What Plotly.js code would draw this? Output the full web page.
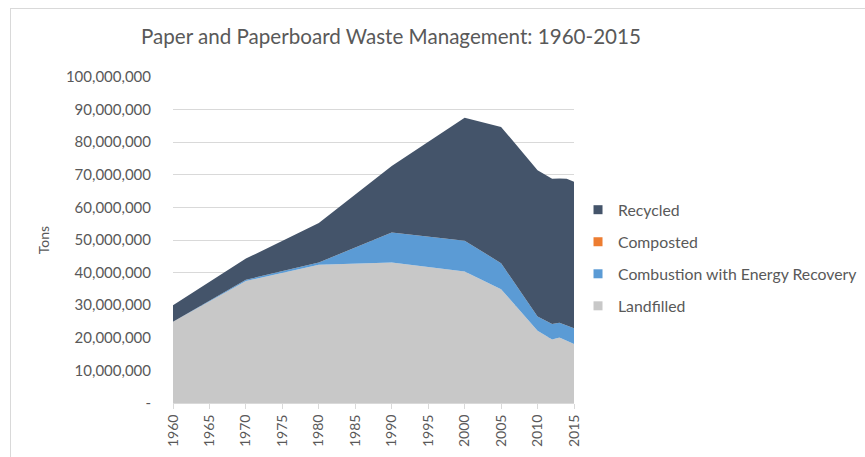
<!DOCTYPE html>
<html>
<head>
<meta charset="utf-8">
<script src="https://cdn.plot.ly/plotly-3.0.1.min.js"></script>
<style>
  html, body { margin: 0; padding: 0; background: #fff; }
  #wrap { position: relative; width: 865px; height: 457px; }
  #chart { width: 865px; height: 457px; }
  #frame { position: absolute; left: 10px; top: 8px; right: 0; bottom: 0;
           border-left: 1px solid #D9D9D9; border-top: 1px solid #D9D9D9; pointer-events: none; }
</style>
</head>
<body>
<div id="wrap"><div id="chart"></div><div id="frame"></div></div>
<script>
// Data (tons)
var years       = [1960, 1970, 1980, 1990, 2000, 2005, 2010, 2012, 2013, 2014, 2015];
var landfilled  = [24900000, 37400000, 42400000, 43100000, 40300000, 34900000, 22200000, 19500000, 20100000, 19000000, 18100000];
var combustion  = [0, 400000, 700000, 9200000, 9500000, 8000000, 4300000, 4700000, 4500000, 4700000, 4800000];
var composted   = [0, 0, 0, 0, 0, 0, 0, 0, 0, 0, 0];
var recycled    = [5100000, 6500000, 12100000, 20400000, 37700000, 41800000, 44900000, 44600000, 44300000, 45100000, 45000000];

var seriesNames = ['Landfilled', 'Combustion with Energy Recovery', 'Composted', 'Recycled'];
var seriesColors = ['#C8C8C8', '#5B9BD5', '#ED7D31', '#44546A'];
var seriesValues = [landfilled, combustion, composted, recycled];

var yTickVals = [0, 10000000, 20000000, 30000000, 40000000, 50000000, 60000000, 70000000, 80000000, 90000000, 100000000];
var yTickText = ['-', '10,000,000', '20,000,000', '30,000,000', '40,000,000', '50,000,000', '60,000,000', '70,000,000', '80,000,000', '90,000,000', '100,000,000'];
var xTickVals = [1960, 1965, 1970, 1975, 1980, 1985, 1990, 1995, 2000, 2005, 2010, 2015];

var textColor = '#595959';
var fontFam = 'Lato, "Open Sans", sans-serif';

var traces = [];
for (var i = 0; i < seriesNames.length; i++) {
  traces.push({
    type: 'scatter', mode: 'lines', x: years, y: seriesValues[i],
    stackgroup: 'one', name: seriesNames[i],
    line: { width: 0, color: seriesColors[i] },
    fillcolor: seriesColors[i], showlegend: false, hoverinfo: 'x+y+name'
  });
}
// Legend entries (square swatches like the reference), top of stack listed first
for (var j = seriesNames.length - 1; j >= 0; j--) {
  traces.push({
    type: 'scatter', mode: 'markers', x: [null], y: [null],
    name: seriesNames[j], legendgroup: 'g' + j,
    marker: { symbol: 'square', size: 9, color: seriesColors[j] },
    showlegend: true
  });
}

var layout = {
  width: 865, height: 457,
  margin: { l: 173, r: 291, t: 77, b: 54, pad: 0, autoexpand: false },
  paper_bgcolor: '#fff', plot_bgcolor: '#fff',
  font: { family: fontFam, color: textColor, size: 14 },
  title: {
    text: 'Paper and Paperboard Waste Management: 1960-2015',
    font: { family: fontFam, size: 20.6, color: textColor },
    xref: 'container', x: 0.452, xanchor: 'center',
    yref: 'container', y: 0.919, yanchor: 'middle'
  },
  xaxis: {
    type: 'linear', range: [1960, 2015], tickmode: 'array', tickvals: xTickVals,
    tickangle: -90, ticks: 'outside', ticklen: 5, tickcolor: '#D9D9D9',
    showline: true, linecolor: '#D9D9D9', linewidth: 1, showgrid: false, zeroline: false,
    tickfont: { family: fontFam, size: 14, color: textColor }, fixedrange: true
  },
  yaxis: {
    range: [0, 100000000], tickmode: 'array', tickvals: yTickVals, ticktext: yTickText,
    showgrid: true, gridcolor: '#D9D9D9', gridwidth: 1, zeroline: false, showline: false,
    ticks: 'outside', ticklen: 18, tickcolor: 'rgba(0,0,0,0)',
    tickfont: { family: fontFam, size: 15, color: textColor },
    title: { text: 'Tons', font: { family: fontFam, size: 14, color: textColor }, standoff: 12 },
    fixedrange: true
  },
  legend: {
    x: 1.01, xanchor: 'left', y: 0.445, yanchor: 'middle',
    traceorder: 'grouped', tracegroupgap: 8.5,
    font: { family: fontFam, size: 15.8, color: textColor },
    bgcolor: 'rgba(0,0,0,0)', itemwidth: 30
  },
  showlegend: true
};

Plotly.newPlot('chart', traces, layout, { displayModeBar: false, staticPlot: true });
</script>
</body>
</html>
